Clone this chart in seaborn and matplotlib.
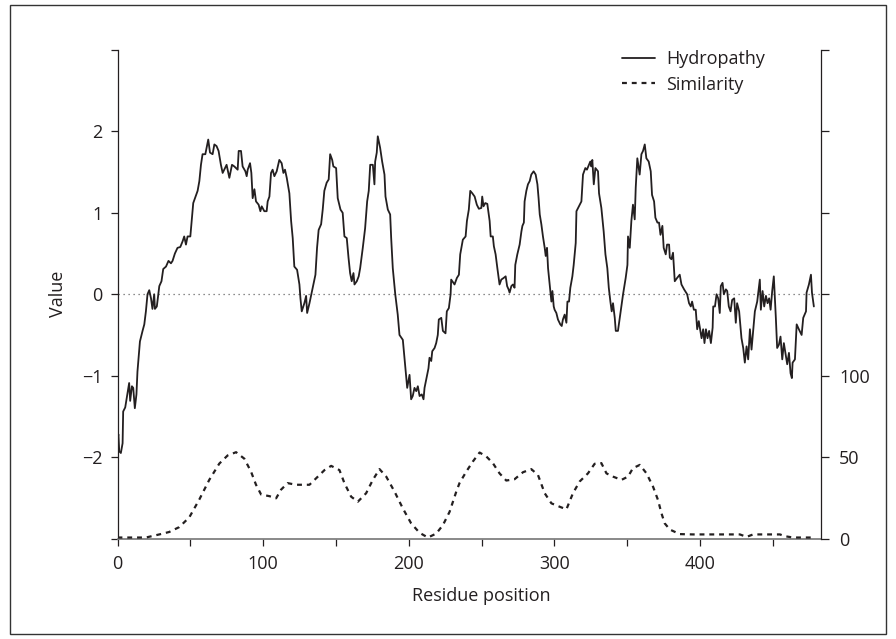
import numpy as np
import pandas as pd
import matplotlib
matplotlib.use("Agg")
import matplotlib.pyplot as plt
from matplotlib.patches import Rectangle
from matplotlib.lines import Line2D
import seaborn as sns

# ---------------- data ----------------
hydro_pos = [0, 0.6, 1.2, 2.3, 3.5, 3.9, 5.3, 6.9, 8, 8.7, 9.9, 10.8, 11.9, 13, 13.7, 15.4, 17.2, 18.4, 19.5,
             20.6, 21.8, 23, 24, 25.2, 25.7, 27, 28.7, 30.2, 31.4, 33.3, 35, 36.7, 37.8, 39.4, 41.2, 43.1, 44.7,
             45.8, 47, 48.1, 50, 51.1, 52, 55, 56.2, 57.3, 58.4, 60.3, 61.2, 62.3, 63.5, 65.3, 66.5, 68, 69.4,
             71, 72.2, 73.3, 74.9, 76.8,
             78.6, 80.2, 82.5, 83.2, 84.8, 85.9, 87.8, 88.7, 89.4, 91, 91.9, 92.8, 94, 95.1, 96.9, 98.1, 99,
             100.8, 102.4, 103.1, 104.3, 105.4, 106.5, 107.7, 109.3, 111.1, 112.7, 113.9, 115, 116.2, 118,
             119.2, 120.3, 121.4, 123.3, 124.9, 125.6, 126.5, 128.3, 129.5, 130.2, 131.8, 134, 135.9, 137,
             138.1, 139.8, 140.9, 142, 143.6, 145, 146, 147.4, 148.2, 150.1, 151.2, 153.1, 154.6, 155.8, 157.4,
             158.6, 159.7, 160.8, 162, 162.7, 164.3, 165.6,
             166.6, 168.4, 170, 171.4, 172.5, 173.5, 175.3, 176.4, 176.9, 178, 178.7, 180.3, 181.7, 183.3, 184,
             185.6, 187.2, 187.9, 189, 190.7, 192.4, 193.6, 195.9, 197, 198.2, 198.9, 200.5, 201.6, 202.7,
             203.9, 205.1, 206.2, 207.4, 208.9, 210.1, 210.8, 212.4, 213.5, 214.2, 215.4, 216.1, 217.7, 218.8,
             219.9, 220.6, 222.3, 223.4, 225.2, 226.1, 227.5, 228.7, 229.1, 231.4, 233, 234.4, 235.3, 237.1,
             239, 239.9, 241.2, 242.2,
             243.6, 245.2, 246.7, 248.1, 249.8, 250.4, 251.3, 252.5, 253.9, 255.5, 256.2, 257.7, 258.4, 259.6,
             260.8, 262.3, 263.5, 265.1, 266.5, 267.5, 268.5, 269.2, 270.4, 271.5, 272.6, 273.1, 274.5, 276.1,
             277.3, 278, 279, 279.5, 280.7, 281.8, 283, 284.1, 285.7, 287.1, 288.3, 289.1, 289.9, 291, 292.1,
             293.3, 294, 294.9, 295.6, 296.7, 297.9, 298.6, 299.5, 300.1, 301.3, 302.4, 304, 305, 305.8, 307,
             308.2, 308.9, 310, 310.9, 312.3, 313.2, 314.6, 315.1, 316.8, 318.5, 319.6, 321.2, 322.3, 323.7,
             324.6, 325.3, 326, 327, 328.1, 329.9, 330.6, 332.2, 333.8, 335, 336.3, 337.3, 338.4, 339.3, 340.2,
             341.4, 342.1, 343.6, 345.5, 347.1, 348.9, 350.1, 350.5, 351.7, 352.8, 353.9, 355.1, 355.8, 356.9,
             358.5, 359.7, 360.8, 362, 363.1, 364.7, 366.1, 367, 368.4, 369.3, 370.7, 371.8, 372.8, 374.1, 375,
             376.4, 377.3, 378.7, 379.2, 380.3, 381.4, 382.6, 384.2, 386, 387.2, 389, 391.1, 392.4, 393.6,
             394.5, 395.7, 397, 398, 399.1,
             399.8, 401, 402.1, 403, 404, 405.1, 406.2, 407.4, 408.6, 409, 410.2, 411.3, 412.4, 413.5, 414.2,
             415.4, 416.3, 417.7, 418.6, 419.7, 420.9, 422, 423.4, 424.5, 425.4, 426.8, 428.4, 429.6, 430.7,
             431.9, 433, 434.2, 435.3, 436.4, 437.6, 439.2, 441, 441.7, 442.9, 444, 445.2, 446.3, 447.4, 448.4,
             449.5, 450.6, 452, 452.9, 454.1, 455.2, 456.4, 457.5, 458.7, 459.8, 461, 462.1, 463, 463.5, 465.1,
             466.3, 467.8, 469.7, 470.8, 472.7, 473.1, 474.7, 476.1, 476.8, 478.1]
hydro_val = [-1.80, -1.72, -1.93, -1.95, -1.83, -1.44, -1.39, -1.21, -1.09, -1.31, -1.13, -1.15, -1.40, -1.23,
             -0.95, -0.58, -0.45, -0.37, -0.21, 0.0, 0.05, -0.05, -0.18, 0.0, -0.18, -0.15, 0.10, 0.16, 0.31,
             0.34, 0.41, 0.38, 0.41, 0.50, 0.57, 0.58, 0.65, 0.71, 0.61, 0.71, 0.71, 0.94, 1.12, 1.27, 1.39,
             1.59, 1.72, 1.72, 1.80, 1.90, 1.74, 1.72, 1.84, 1.82, 1.76, 1.59, 1.49, 1.53, 1.59, 1.43,
             1.59, 1.57, 1.53, 1.76, 1.76, 1.57, 1.51, 1.45, 1.53, 1.61, 1.49, 1.18, 1.29, 1.14, 1.10, 1.02,
             1.08, 1.02, 1.02, 1.14, 1.20, 1.49, 1.53, 1.45, 1.51, 1.65, 1.61, 1.49, 1.53, 1.43, 1.24, 0.90,
             0.69, 0.34, 0.30, 0.12, -0.05, -0.21, -0.11, -0.02, -0.23, -0.11, 0.08, 0.24, 0.57, 0.79, 0.86,
             1.04, 1.27, 1.37, 1.41, 1.72, 1.65, 1.57, 1.55, 1.18, 1.04, 1.00, 0.71, 0.69, 0.45, 0.26, 0.16,
             0.26, 0.12, 0.16, 0.22,
             0.32, 0.57, 0.81, 1.14, 1.27, 1.59, 1.59, 1.35, 1.63, 1.74, 1.94, 1.80, 1.63, 1.47, 1.20, 1.04,
             0.98, 0.69, 0.32, 0.0, -0.25, -0.50, -0.56, -0.78, -1.03, -1.15, -0.99, -1.29, -1.25, -1.15,
             -1.19, -1.13, -1.25, -1.23, -1.29, -1.15, -1.01, -0.91, -0.78, -0.82, -0.70, -0.66, -0.60, -0.50,
             -0.31, -0.29, -0.45, -0.48, -0.21, -0.17, 0.0, 0.18, 0.12, 0.20, 0.24, 0.49, 0.67, 0.71, 0.90,
             1.04, 1.27,
             1.24, 1.20, 1.10, 1.05, 1.06, 1.20, 1.08, 1.12, 1.11, 0.90, 0.71, 0.71, 0.59, 0.49, 0.32, 0.12,
             0.18, 0.20, 0.22, 0.10, 0.06, 0.02, 0.10, 0.12, 0.08, 0.36, 0.49, 0.61, 0.77, 0.84, 0.88, 1.14,
             1.27, 1.35, 1.39, 1.47, 1.51, 1.47, 1.35, 1.18, 0.98, 0.86, 0.71, 0.57, 0.47, 0.57, 0.32, 0.12,
             -0.09, 0.04, -0.15, -0.19, -0.23, -0.31, -0.37, -0.39, -0.31, -0.25, -0.35, -0.09, -0.09, 0.08,
             0.22, 0.36, 0.63, 1.02, 1.08, 1.14, 1.47, 1.55, 1.53, 1.59,
             1.63, 1.57, 1.65, 1.35, 1.55, 1.51, 1.24, 1.06, 0.77, 0.49, 0.32, 0.08, -0.09, -0.21, -0.11,
             -0.29, -0.45, -0.45, -0.21, 0.0, 0.20, 0.36, 0.71, 0.57, 0.90, 1.10, 0.92, 1.31, 1.67, 1.47,
             1.72, 1.76, 1.84, 1.67, 1.63, 1.51, 1.22, 1.14, 0.94, 0.88, 0.88, 0.73, 0.84, 0.57, 0.49, 0.61,
             0.61, 0.45, 0.43, 0.51, 0.16, 0.20, 0.24, 0.12, 0.06, 0.0, -0.11, -0.15, -0.09, -0.19, -0.19,
             -0.43, -0.33,
             -0.41, -0.54, -0.43, -0.60, -0.43, -0.54, -0.45, -0.60, -0.41, -0.15, -0.15, 0.0, -0.05, -0.23,
             0.10, 0.14, 0.0, 0.06, 0.04, -0.15, -0.21, -0.07, -0.05, -0.35, -0.11, -0.21, -0.54, -0.66,
             -0.84, -0.64, -0.80, -0.43, -0.68, -0.45, -0.21, -0.09, 0.18, -0.19, 0.04, -0.15, -0.02, -0.11,
             -0.05, -0.19, 0.04, 0.22, -0.29, -0.66, -0.62, -0.52, -0.80, -0.60, -0.74, -0.86, -0.72, -0.97,
             -1.03, -0.84, -0.80, -0.37, -0.43, -0.50, -0.29, -0.21, 0.02, 0.12, 0.24, 0.02, -0.15]

sim_pos = [0, 19.5, 28.7, 35.5, 42.4, 49.3, 56.2, 63, 69.9, 75.6, 81.4, 87.1, 91.7, 95.1, 98.6, 104.3,
           108.9, 112.3, 116.8, 122.6, 131.8, 136.4, 142.1, 146.7, 152.4, 155.8, 160.4, 165, 170.7, 175.3,
           179.9, 184.5, 190.2, 195.9, 201.6, 207.4, 213.1, 218.8, 223.4, 228, 232.6, 234.8, 239.4, 244,
           248.6, 253.2, 257.7, 262.3, 266.9, 272.6, 278.4, 284.1, 288.7, 293.3, 297.9, 303.6, 308.2, 312.7,
           317.3, 323, 327.6, 332.2, 335.7, 340.2, 346, 350.5, 353.9, 358.6, 363.2, 367.7, 371.1, 373.5,
           375.7, 379.2, 386, 395.2, 413.5, 427.3, 431.9, 436.4, 454.8, 458.2, 463.9, 477.7]
sim_val = [0.6, 0.6, 2.5, 4, 7, 13, 24, 36, 46, 51, 53, 49, 41, 33, 27, 26, 24.7, 30, 34, 33, 33, 37, 42,
           44.6, 42, 34, 25.7, 22.6, 27.8, 36, 42.6, 38, 28.8, 18.5, 9.3, 3.5, 0.6, 3, 8.2, 16.4, 28.8, 34,
           41, 47.3, 52.8, 50.4, 46.3, 40, 35.6, 36.4, 40.7, 42.6, 39, 27.8, 21.6, 19.5, 17.9, 27.8, 35, 40,
           45.9, 46.3, 40, 38, 36, 38, 43.2, 45.2, 40, 31.8, 23.6, 15.4, 9.3, 5.5, 2.7, 2.5, 2.5, 2.5, 1, 2.5,
           2.5, 1.4, 0.6, 0.6]

left_ticks = [-3, -2, -1, 0, 1, 2, 3]
left_labels = ["", "\u22122", "\u22121", "0", "1", "2", ""]
right_ticks = [0, 50, 100, 150, 200, 250, 300]
right_labels = ["0", "50", "100", "", "", "", ""]
x_ticks = [0, 50, 100, 150, 200, 250, 300, 350, 400, 450]
x_labels = ["0", "", "100", "", "200", "", "300", "", "400", ""]
series_names = ["Hydropathy", "Similarity"]

# ---------------- style ----------------
sns.set_theme(style="ticks")
plt.rcParams["font.family"] = ["Open Sans", "DejaVu Sans"]
ink = "#231f20"
plt.rcParams["text.color"] = ink
plt.rcParams["axes.labelcolor"] = ink
plt.rcParams["xtick.color"] = ink
plt.rcParams["ytick.color"] = ink
FS = 13

W, H = 896, 639
fig = plt.figure(figsize=(W / 100, H / 100), dpi=100)
fig.patch.set_facecolor("white")
L, R, T, B = 117.5, 821, 50, 538.5
ax = fig.add_axes([L / W, 1 - B / H, (R - L) / W, (B - T) / H])
ax2 = ax.twinx()

hydro_df = pd.DataFrame({"pos": hydro_pos, "val": hydro_val})
sim_df = pd.DataFrame({"pos": sim_pos, "val": sim_val})

ax.axhline(0, color="#666666", lw=0.9, ls=(0, (1, 3)), zorder=1)
sns.lineplot(data=hydro_df, x="pos", y="val", ax=ax, color=ink, lw=1.3, estimator=None, sort=False,
             legend=False)
sns.lineplot(data=sim_df, x="pos", y="val", ax=ax2, color=ink, lw=1.6, estimator=None, sort=False,
             legend=False)
ax2.lines[-1].set_linestyle((0, (2.2, 2.2)))

ax.set_xlim(0, 483)
ax.set_ylim(-3, 3)
ax2.set_ylim(0, 300)

ax.set_xticks(x_ticks)
ax.set_xticklabels(x_labels)
ax.set_yticks(left_ticks)
ax.set_yticklabels(left_labels)
ax2.set_yticks(right_ticks)
ax2.set_yticklabels(right_labels)

ax.set_xlabel("Residue position", fontsize=FS)
ax.set_ylabel("Value", fontsize=FS)
ax.xaxis.set_label_coords(0.517, -0.10)
ax.yaxis.set_label_coords(-0.072, 0.5)
ax2.set_ylabel("")

for a in (ax, ax2):
    a.spines["top"].set_visible(False)
ax.tick_params(axis="x", direction="out", length=5, width=0.9, labelsize=FS, pad=7)
ax.tick_params(axis="y", direction="out", length=5, width=0.9, labelsize=FS, pad=6)
ax2.tick_params(axis="y", direction="out", length=6, width=0.9, labelsize=FS, pad=7)
ax.spines["right"].set_visible(False)
ax.spines["left"].set_color(ink)
ax.spines["left"].set_linewidth(0.9)
ax.spines["bottom"].set_color("#808080")
ax.spines["bottom"].set_linewidth(1.3)
ax2.spines["left"].set_visible(False)
ax2.spines["bottom"].set_visible(False)
ax2.spines["right"].set_visible(True)
ax2.spines["right"].set_color(ink)
ax2.spines["right"].set_linewidth(0.9)

handles = [Line2D([], [], color=ink, lw=1.3),
           Line2D([], [], color=ink, lw=1.6, ls=(0, (2.2, 2.2)))]
fig.legend(handles, series_names, loc="upper left", bbox_to_anchor=(622 / W, 1 - 50 / H),
           bbox_transform=fig.transFigure, frameon=False, fontsize=FS, handlelength=1.85,
           handletextpad=0.6, labelspacing=0.42, borderpad=0, borderaxespad=0)

fig.patches.append(Rectangle((10 / W, 5 / H), (886 - 10) / W, (634 - 5) / H, transform=fig.transFigure,
                             fill=False, lw=1.0, ec="#333333", zorder=10))

fig.savefig("out.png", dpi=100, facecolor="white")
